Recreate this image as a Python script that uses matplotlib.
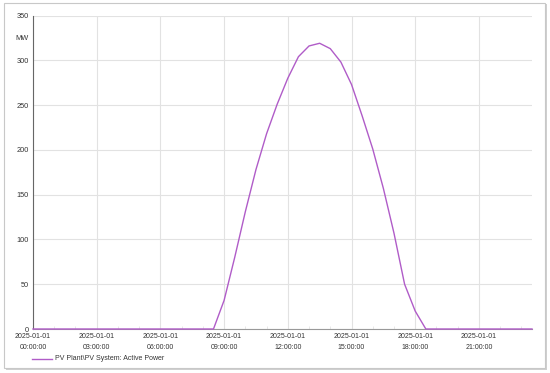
import matplotlib
matplotlib.use("Agg")
import matplotlib.pyplot as plt
from matplotlib.patches import Rectangle
import numpy as np

plt.rcParams['font.family'] = ['Liberation Sans', 'DejaVu Sans']

# half-hourly values, 00:00 .. 23:30 (hours)
hours = [h * 0.5 for h in range(48)]
power_mw = [0, 0, 0, 0, 0, 0, 0, 0, 0, 0, 0, 0, 0, 0, 0, 0, 0, 0,
            32, 80, 131, 178, 218, 251, 280, 304, 316, 319, 313, 298,
            273, 238, 201, 157, 107, 50, 20, 0,
            0, 0, 0, 0, 0, 0, 0, 0, 0, 0]
tick_hours = [0, 3, 6, 9, 12, 15, 18, 21]
tick_labels = ["2025-01-01\n00:00:00", "2025-01-01\n03:00:00", "2025-01-01\n06:00:00",
               "2025-01-01\n09:00:00", "2025-01-01\n12:00:00", "2025-01-01\n15:00:00",
               "2025-01-01\n18:00:00", "2025-01-01\n21:00:00"]
y_ticks = [0, 50, 100, 150, 200, 250, 300, 350]
series_name = "PV Plant\\PV System: Active Power"

W, H = 550, 373
fig = plt.figure(figsize=(W/100, H/100), dpi=100)

# outer frame with soft shadow
fig.patches.append(Rectangle((6/W, 1-370/H), 541/W, 366/H, transform=fig.transFigure,
                             facecolor='#d0d0d0', edgecolor='none', zorder=0))
fig.patches.append(Rectangle((4/W, 1-368/H), 541/W, 365/H, transform=fig.transFigure,
                             facecolor='white', edgecolor='#c8c8c8', linewidth=0.8, zorder=1))

ax = fig.add_axes([33/W, 1-329/H, (532-33)/W, (329-15.5)/H])
ax.set_zorder(2)
ax.plot(hours, power_mw, color='#b05cc8', linewidth=1.0, clip_on=False, zorder=3)
ax.set_xlim(0, 23.5)
ax.set_ylim(0, 350)
ax.set_xticks(tick_hours)
ax.set_xticklabels(tick_labels, fontsize=5.0, color='#333333', linespacing=1.75)
ax.set_yticks(y_ticks)
ax.set_yticklabels([str(v) for v in y_ticks], fontsize=5.3, color='#333333')
ax.set_xticks(np.arange(0, 23.6, 1.0), minor=True)
ax.tick_params(axis='both', which='major', length=0, pad=3)
ax.tick_params(axis='x', which='minor', length=2, color='#e4e4e4', direction='in')
ax.grid(True, which='major', color='#e2e2e2', linewidth=0.8)
for s in ['top', 'right']:
    ax.spines[s].set_visible(False)
ax.spines['left'].set_color('#666666')
ax.spines['left'].set_linewidth(0.8)
ax.spines['bottom'].set_color('#999999')
ax.spines['bottom'].set_linewidth(0.8)

fig.text(29/W, 1-39/H, "MW", fontsize=5.3, color='#333333', ha='right', va='center')

# legend
fig.add_artist(plt.Line2D([32/W, 52/W], [1-359/H, 1-359/H], color='#b05cc8',
                          linewidth=1.0, transform=fig.transFigure))
fig.text(55/W, 1-359/H, series_name, fontsize=5.0, color='#333333', ha='left', va='center')

fig.savefig("out.png", dpi=100)
